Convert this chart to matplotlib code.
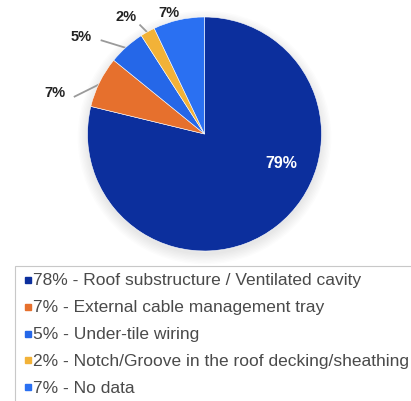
import matplotlib.pyplot as plt
from matplotlib.patches import Rectangle, Circle
import numpy as np

plt.rcParams['font.family'] = ['Liberation Sans', 'DejaVu Sans']

# mounting locations and their shares (percent)
categorias = ["Roof substructure / Ventilated cavity",
              "External cable management tray",
              "Under-tile wiring",
              "Notch/Groove in the roof decking/sheathing",
              "No data"]
valores = [78, 7, 5, 2, 7]
colores = ["#0c2f9d", "#e6702d", "#2567e8", "#f2b238", "#2a70f2"]

# where the outside labels sit (pie radius = 1)
pos_texto = [None, (-1.28, 0.36), (-1.05, 0.84), (-0.67, 1.01), (-0.30, 1.04)]

W, H = 411, 402
fig = plt.figure(figsize=(W / 100, H / 100), dpi=100)

cx, cy, r = 204.5, 135, 117
ax = fig.add_axes([(cx - r) / W, (H - cy - r) / H, 2 * r / W, 2 * r / H])

# soft shadow under the pie
for k in range(8):
    ax.add_patch(Circle((0.0, -0.03), 1.0 + 0.012 * k, color='black',
                        alpha=0.012, lw=0, zorder=0, clip_on=False))

wedges, _ = ax.pie(valores, colors=colores, startangle=90, counterclock=False,
                   radius=1, wedgeprops=dict(edgecolor='white', linewidth=0.4))
for w in wedges:
    w.set_zorder(2)
ax.set_xlim(-1, 1)
ax.set_ylim(-1, 1)
ax.axis('off')

total = sum(valores)
for i, (w, v, p) in enumerate(zip(wedges, valores, pos_texto)):
    pct = f"{100 * v / total:.0f}%"
    ang = np.deg2rad((w.theta1 + w.theta2) / 2)
    if p is None:
        ax.text(0.66, -0.24, pct, color='white',
                fontsize=11.5, fontweight='bold', ha='center', va='center', zorder=3)
        continue
    borde = (np.cos(ang), np.sin(ang))
    ax.text(p[0], p[1], pct, color='#222222', fontsize=10.5, fontweight='bold',
            ha='center', va='center', zorder=3, clip_on=False)
    if i < len(valores) - 1:
        inicio = (p[0] + 0.17, p[1] - 0.04) if p[0] < -0.9 else (p[0] + 0.12, p[1] - 0.08)
        ax.plot([inicio[0], borde[0] - 0.02 * np.cos(ang)],
                [inicio[1], borde[1] - 0.02 * np.sin(ang)],
                color='#9a9a9a', lw=1.3, zorder=1, clip_on=False)

# legend box
fig.patches.append(Rectangle((15 / W, -0.1), 1.0, (H - 267) / H + 0.1,
                             transform=fig.transFigure, facecolor='white',
                             edgecolor='#c8c8c8', lw=0.8))
for i, (v, nombre, c) in enumerate(zip(valores, categorias, colores)):
    y = 1 - (281 + 26.8 * i) / H
    fig.patches.append(Rectangle((25 / W, y - 3 / H), 6 / W, 6 / H,
                                 transform=fig.transFigure, color=c))
    fig.text(33 / W, y, f"{v}% - {nombre}", fontsize=12.5, color='#4a4a4a',
             va='center', ha='left')

fig.savefig("out.png", dpi=100)
